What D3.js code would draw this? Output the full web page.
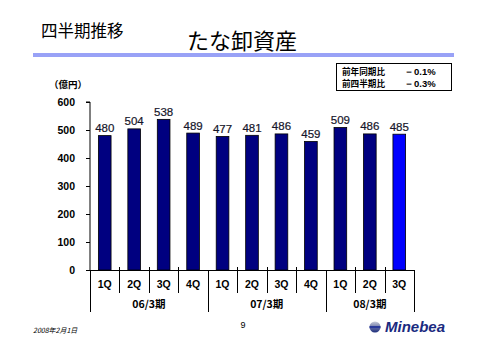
<!DOCTYPE html>
<html><head><meta charset="utf-8">
<script src="https://cdn.jsdelivr.net/npm/d3@7"></script>
<style>html,body{margin:0;padding:0;background:#fff;}svg{display:block;}</style>
</head><body>
<script>
const categories = ["1Q","2Q","3Q","4Q","1Q","2Q","3Q","4Q","1Q","2Q","3Q"];
const values = [480,504,538,489,477,481,486,459,509,486,485];
const periods = ["06/3期","07/3期","08/3期"];
const periodSizes = [4,4,3];
const yTicks = [0,100,200,300,400,500,600];
const legendLabels = ["前年同期比","前四半期比"];
const legendValues = ["－0.1%","－0.3%"];

const W = 480, H = 340;
const svg = d3.select("body").append("svg").attr("width", W).attr("height", H);
const font = "'Liberation Sans', Arial, sans-serif";
const jfont = "'Noto Sans CJK JP', sans-serif";

// header
svg.append("text").attr("x", 41).attr("y", 37).attr("font-family", jfont).attr("font-size", 16.5).attr("fill", "#000").text("四半期推移");
svg.append("text").attr("x", 187).attr("y", 49).attr("font-family", jfont).attr("font-size", 22).attr("fill", "#000").text("たな卸資産");
[54, 56].forEach(y => svg.append("line").attr("x1", 33).attr("x2", 454).attr("y1", y).attr("y2", y).attr("stroke", "#3344ee").attr("stroke-width", 1));

// legend box
svg.append("rect").attr("x", 336.5).attr("y", 63.5).attr("width", 115).attr("height", 27).attr("fill", "none").attr("stroke", "#000").attr("stroke-width", 1);
legendLabels.forEach((t, i) => {
  svg.append("text").attr("x", 342).attr("y", 74.5 + i * 12.5).attr("font-family", jfont).attr("font-size", 8.6).attr("font-weight", "bold").attr("fill", "#000").text(t);
  svg.append("text").attr("x", 404).attr("y", 74.5 + i * 12.5).attr("font-family", font).attr("font-size", 9.5).attr("font-weight", "bold").attr("fill", "#000").text(legendValues[i]);
});

svg.append("text").attr("x", 49).attr("y", 88).attr("font-family", jfont).attr("font-size", 9.5).attr("font-weight", "bold").attr("fill", "#000").text("（億円）");

// scales
const x0 = 90, x1 = 414, yBase = 270, yTop = 102;
const idx = categories.map((c, i) => i);
const x = d3.scaleBand().domain(idx).range([x0, x1]).padding(0);
const y = d3.scaleLinear().domain([0, 600]).range([yBase, yTop]);
const barW = x.bandwidth() * 0.43;

// y axis
const yAxis = svg.append("g").attr("transform", `translate(${x0},0)`)
  .call(d3.axisLeft(y).tickValues(yTicks).tickSize(4).tickPadding(11));
yAxis.select(".domain").attr("stroke", "#000").attr("d", `M-4,${yTop}H0V${yBase}`);
yAxis.selectAll("line").attr("stroke", "#000");
yAxis.selectAll("text").attr("font-family", font).attr("font-size", 10.5).attr("font-weight", "bold").attr("fill", "#000");

// bars
svg.append("g").selectAll("rect").data(values).join("rect")
  .attr("x", (d, i) => x(i) + (x.bandwidth() - barW) / 2)
  .attr("y", d => y(d))
  .attr("width", barW)
  .attr("height", d => yBase - y(d))
  .attr("fill", (d, i) => i === values.length - 1 ? "#0000ff" : "#000080")
  .attr("stroke", "#000").attr("stroke-width", 0.8);

// value labels
svg.append("g").selectAll("text").data(values).join("text")
  .attr("x", (d, i) => x(i) + x.bandwidth() / 2)
  .attr("y", d => y(d) - 3.5)
  .attr("text-anchor", "middle")
  .attr("font-family", font).attr("font-size", 11.5).attr("fill", "#15152a")
  .attr("stroke", "#15152a").attr("stroke-width", 0.2)
  .text(d => d);

// x axis baseline
svg.append("line").attr("x1", x0).attr("x2", x1).attr("y1", yBase + 0.5).attr("y2", yBase + 0.5).attr("stroke", "#000");

// category dividers & labels
const bounds = idx.map(i => x(i)).concat([x1]);
const groupStarts = [0];
periodSizes.forEach((s, i) => groupStarts.push(groupStarts[i] + s));
bounds.forEach((b, i) => {
  const isGroup = groupStarts.includes(i);
  svg.append("line").attr("x1", Math.round(b) + 0.5).attr("x2", Math.round(b) + 0.5)
    .attr("y1", isGroup ? yBase : yBase - 3).attr("y2", isGroup ? 312 : 293)
    .attr("stroke", "#000");
});
svg.append("g").selectAll("text").data(categories).join("text")
  .attr("x", (d, i) => x(i) + x.bandwidth() / 2)
  .attr("y", 288).attr("text-anchor", "middle")
  .attr("font-family", font).attr("font-size", 10.5).attr("font-weight", "bold").attr("fill", "#000")
  .text(d => d);
periods.forEach((p, i) => {
  const a = x(groupStarts[i]);
  const b = groupStarts[i + 1] < categories.length ? x(groupStarts[i + 1]) : x1;
  svg.append("text").attr("x", (a + b) / 2).attr("y", 308).attr("text-anchor", "middle")
    .attr("font-family", jfont).attr("font-size", 10.5).attr("font-weight", "bold").attr("fill", "#000")
    .text(p);
});

// footer
svg.append("text").attr("x", 243).attr("y", 328).attr("text-anchor", "middle").attr("font-family", font).attr("font-size", 9).attr("fill", "#000").text("9");
svg.append("text").attr("x", 33).attr("y", 333).attr("font-family", jfont).attr("font-size", 7).attr("font-style", "italic").attr("fill", "#000").text("2008年2月1日");

// logo
const lg = svg.append("g");
const grad = svg.append("defs").append("linearGradient").attr("id", "lg").attr("x1", 0).attr("y1", 0).attr("x2", 0).attr("y2", 1);
grad.append("stop").attr("offset", "0%").attr("stop-color", "#c8ccd8");
grad.append("stop").attr("offset", "100%").attr("stop-color", "#1a2a7a");
lg.append("circle").attr("cx", 375).attr("cy", 327).attr("r", 5.5).attr("fill", "url(#lg)");
lg.append("rect").attr("x", 369.5).attr("y", 326).attr("width", 11).attr("height", 2.2).attr("fill", "#2a3a9a");
lg.append("text").attr("x", 385).attr("y", 332).attr("font-family", font).attr("font-size", 15).attr("font-weight", "bold").attr("font-style", "italic").attr("fill", "#1a2a80").text("Minebea");
</script>
</body></html>
